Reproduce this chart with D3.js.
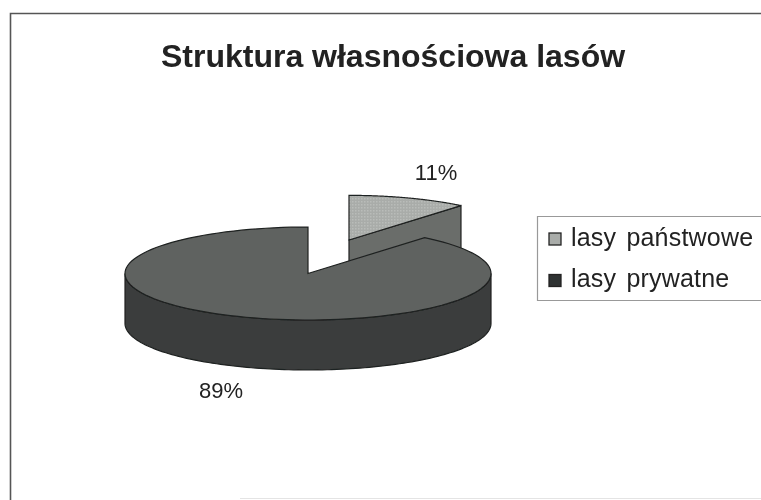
<!DOCTYPE html>
<html>
<head>
<meta charset="utf-8">
<script src="https://d3js.org/d3.v7.min.js"></script>
<style>
  html, body { margin: 0; padding: 0; background: #fff; }
  svg { display: block; }
  text { font-family: "Liberation Sans", Arial, sans-serif; fill: #222; }
</style>
</head>
<body>
  <div id="my_dataviz"></div>
  <script>
    var title = "Struktura własnościowa lasów";
    var categories = ["lasy państwowe", "lasy prywatne"];
    var values = [11, 89];
    var topColors = ["#a9aca9", "#5f6260"];
    var wallColors = ["#6a6d6b", "#3a3d3c"];

    var width = 761, height = 500;
    var rx = 183, ry = 46.5, depth = 50;
    var cx = 308, cy = 273.5;
    var explode = {x: 41, y: -33.5};
    var smallScale = 0.96;

    var svg = d3.select("#my_dataviz")
      .append("svg")
      .attr("width", width)
      .attr("height", height);

    var defs = svg.append("defs");
    defs.append("filter").attr("id", "scan")
      .append("feGaussianBlur").attr("stdDeviation", 0.45);

    // stipple of the light slice
    var dots = defs.append("pattern").attr("id", "stipple")
      .attr("width", 3).attr("height", 3)
      .attr("patternUnits", "userSpaceOnUse");
    dots.append("rect").attr("width", 3).attr("height", 3).attr("fill", topColors[0]);
    dots.append("rect").attr("width", 1.5).attr("height", 1.5).attr("fill", "#b9bcb9");

    var chart = svg.append("g").attr("filter", "url(#scan)");

    // chart frame, open on the right like the scan
    chart.append("path")
      .attr("d", d3.line()([[761, 13.5], [10.5, 13.5], [10.5, 500]]))
      .attr("fill", "none")
      .attr("stroke", "#555")
      .attr("stroke-width", 1.6);
    chart.append("path")
      .attr("d", d3.line()([[240, 498.5], [761, 498.5]]))
      .attr("stroke", "#e4e4e4");

    chart.append("text")
      .attr("x", 393)
      .attr("y", 67)
      .attr("text-anchor", "middle")
      .attr("font-weight", "bold")
      .attr("font-size", 32)
      .text(title);

    var arcs = d3.pie().sort(null)(values);

    // pie angles are clockwise from north, squashed into the ellipse
    function px(a, k) { return rx * (k || 1) * Math.sin(a); }
    function py(a, k) { return -ry * (k || 1) * Math.cos(a); }
    var line = d3.line();

    function sliceTop(d, k) {
      var pts = [[0, 0]];
      d3.range(0, 121).forEach(function (i) {
        var a = d.startAngle + (d.endAngle - d.startAngle) * i / 120;
        pts.push([px(a, k), py(a, k)]);
      });
      return line(pts) + "Z";
    }

    function rimWall(from, to) {
      var upper = d3.range(0, 121).map(function (i) {
        var a = from + (to - from) * i / 120;
        return [px(a), py(a)];
      });
      var lower = upper.slice().reverse().map(function (p) { return [p[0], p[1] + depth]; });
      return line(upper.concat(lower)) + "Z";
    }

    function cutWall(a, k) {
      return line([[0, 0], [px(a, k), py(a, k)], [px(a, k), py(a, k) + depth], [0, depth]]) + "Z";
    }

    var outline = "#1f2120";

    // small slice is pulled out and sits behind the big one
    var small = chart.append("g")
      .attr("transform", "translate(" + (cx + explode.x) + "," + (cy + explode.y) + ")");
    small.append("path")
      .attr("d", cutWall(arcs[0].endAngle, smallScale))
      .attr("fill", wallColors[0]).attr("stroke", outline).attr("stroke-width", 1.2);
    small.append("path")
      .attr("d", sliceTop(arcs[0], smallScale))
      .attr("fill", "url(#stipple)").attr("stroke", outline).attr("stroke-width", 1.2);

    var big = chart.append("g")
      .attr("transform", "translate(" + cx + "," + cy + ")");
    big.append("path")
      .attr("d", rimWall(Math.PI / 2, Math.PI * 1.5))
      .attr("fill", wallColors[1]).attr("stroke", outline).attr("stroke-width", 1.2);
    big.append("path")
      .attr("d", sliceTop(arcs[1]))
      .attr("fill", topColors[1]).attr("stroke", outline).attr("stroke-width", 1.2);

    // percent labels
    chart.append("text").attr("x", 436).attr("y", 180)
      .attr("text-anchor", "middle").attr("font-size", 22).text(values[0] + "%");
    chart.append("text").attr("x", 221).attr("y", 398)
      .attr("text-anchor", "middle").attr("font-size", 22).text(values[1] + "%");

    // legend
    chart.append("path")
      .attr("d", d3.line()([[761, 216.5], [537.5, 216.5], [537.5, 300.5], [761, 300.5]]))
      .attr("fill", "none").attr("stroke", "#999").attr("stroke-width", 1.2);

    var legend = chart.selectAll("g.key")
      .data(categories)
      .enter()
      .append("g")
      .attr("class", "key")
      .attr("transform", function (d, i) { return "translate(549," + (233 + i * 41.5) + ")"; });
    legend.append("rect")
      .attr("width", 12).attr("height", 12)
      .attr("fill", function (d, i) { return i === 0 ? topColors[0] : "#2f3231"; })
      .attr("stroke", "#222").attr("stroke-width", 1.3);
    legend.append("text")
      .attr("x", 22).attr("y", 12.5)
      .attr("font-size", 25)
      .attr("word-spacing", 3)
      .attr("letter-spacing", 0.2)
      .text(function (d) { return d; });
  </script>
</body>
</html>
